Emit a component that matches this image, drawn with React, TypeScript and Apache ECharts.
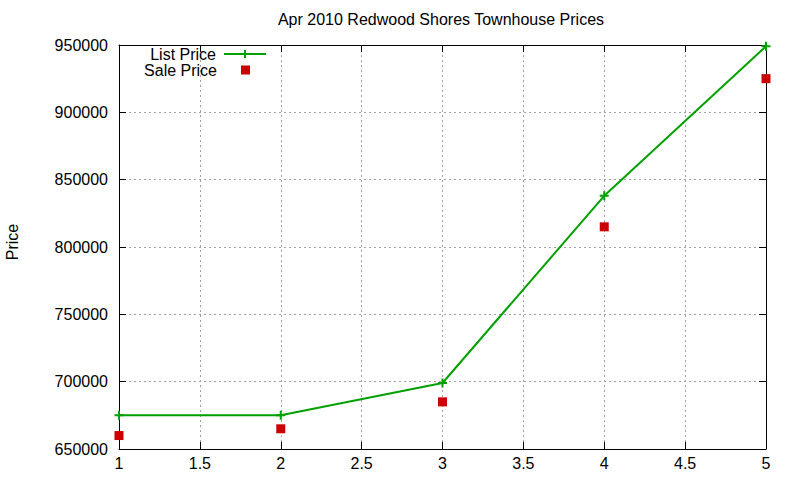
import React, { useEffect, useRef } from "react";
import * as echarts from "echarts";

const titleText = "Apr 2010 Redwood Shores Townhouse Prices";
const xValues = [1, 2, 3, 4, 5];
const listPrice = [675000, 675000, 699000, 838000, 949000];
const salePrice = [660000, 665000, 685000, 815000, 925000];
const seriesNames = ["List Price", "Sale Price"];

const FONT = "Liberation Sans, Arial, sans-serif";
const FS = 16;
const GREEN = "#00a000";
const RED = "#cc0000";
const PLUS = "path://M0,5L10,5M5,0L5,10";

export default function App() {
  const ref = useRef<HTMLDivElement>(null);
  useEffect(() => {
    document.body.style.margin = "0";
    const chart = echarts.init(ref.current!, null, { renderer: "svg" });
    const axisCommon = {
      type: "value" as const,
      axisLine: { show: true, onZero: false, lineStyle: { color: "#000", width: 1 } },
      axisTick: { show: true, inside: true, length: 7, lineStyle: { color: "#000" } },
    };
    const grid = { color: "#a0a0a0", width: 1, type: [2, 3] };
    chart.setOption({
      animation: false,
      backgroundColor: "#fff",
      textStyle: { fontFamily: FONT },
      title: {
        text: titleText,
        left: 441,
        textAlign: "center",
        top: 11,
        padding: 0,
        textStyle: { fontSize: FS, fontWeight: "normal", color: "#000", fontFamily: FONT },
      },
      grid: {
        left: 119,
        right: 34,
        top: 45,
        bottom: 31,
        containLabel: false,
        outerBoundsMode: "none",
      },
      legend: [
        {
          data: [seriesNames[0]],
          right: 533,
          top: 46,
          padding: 0,
          align: "right",
          itemWidth: 42,
          itemHeight: 10,
          textStyle: { fontSize: FS, color: "#000", fontFamily: FONT, padding: [0, 3, 0, 0] },
        },
        {
          data: [{ name: seriesNames[1], icon: "rect" }],
          right: 550,
          top: 62,
          padding: 0,
          align: "right",
          itemWidth: 9,
          itemHeight: 9,
          textStyle: { fontSize: FS, color: "#000", fontFamily: FONT, padding: [0, 19, 0, 0] },
        },
      ],
      xAxis: [
        {
          ...axisCommon,
          position: "bottom",
          min: 1,
          max: 5,
          interval: 0.5,
          axisLabel: { color: "#000", fontSize: FS, fontFamily: FONT, margin: 6 },
          splitLine: { show: true, lineStyle: grid },
        },
        {
          ...axisCommon,
          position: "top",
          min: 1,
          max: 5,
          interval: 0.5,
          axisLabel: { show: false },
          splitLine: { show: false },
        },
      ],
      yAxis: [
        {
          ...axisCommon,
          position: "left",
          min: 650000,
          max: 950000,
          interval: 50000,
          name: "Price",
          nameLocation: "middle",
          nameRotate: 90,
          nameGap: 99,
          nameTextStyle: { color: "#000", fontSize: FS, fontFamily: FONT, padding: [0, 0, 0, 10] },
          axisLabel: {
            color: "#000",
            fontSize: FS,
            fontFamily: FONT,
            margin: 11,
            formatter: (v: number) => String(v),
          },
          splitLine: { show: true, lineStyle: grid },
        },
        {
          ...axisCommon,
          position: "right",
          min: 650000,
          max: 950000,
          interval: 50000,
          axisLabel: { show: false },
          splitLine: { show: false },
        },
      ],
      series: [
        {
          name: seriesNames[0],
          type: "line",
          data: xValues.map((x, i) => [x, listPrice[i]]),
          symbol: PLUS,
          symbolSize: 9,
          lineStyle: { color: GREEN, width: 2 },
          itemStyle: { color: GREEN, borderColor: GREEN, borderWidth: 2 },
        },
        {
          name: seriesNames[1],
          type: "scatter",
          data: xValues.map((x, i) => [x, salePrice[i]]),
          symbol: "rect",
          symbolSize: 9,
          itemStyle: { color: RED, opacity: 1 },
        },
      ],
    });
    return () => chart.dispose();
  }, []);
  return <div ref={ref} style={{ width: 800, height: 480, position: "absolute", left: 0, top: 0 }} />;
}
